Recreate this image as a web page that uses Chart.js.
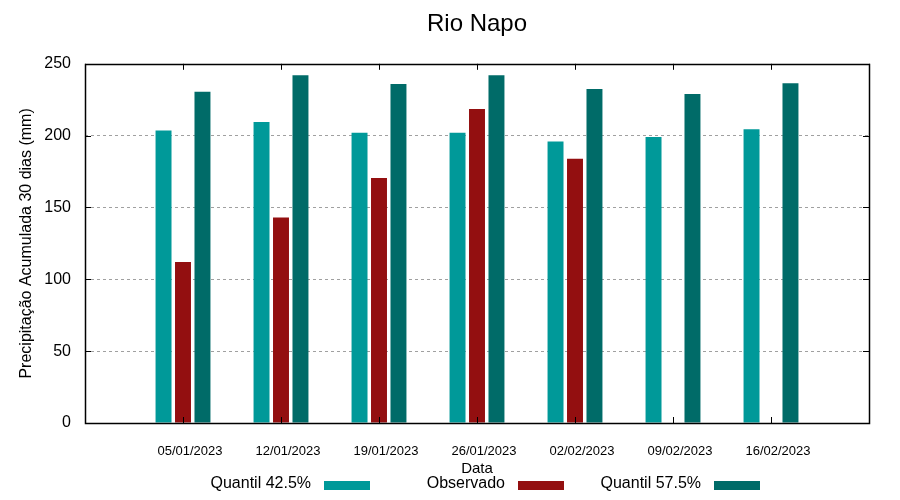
<!DOCTYPE html>
<html>
<head>
<meta charset="utf-8">
<script src="https://cdn.jsdelivr.net/npm/chart.js@4/dist/chart.umd.min.js"></script>
<style>
  html, body { margin: 0; padding: 0; background: #fff; }
  #wrap { width: 900px; height: 500px; }
</style>
</head>
<body>
<div id="wrap"><canvas id="chart" width="900" height="500"></canvas></div>
<script>
// dates (with empty slots at each end, like the gnuplot x range)
const datas = ["", "05/01/2023", "12/01/2023", "19/01/2023", "26/01/2023", "02/02/2023", "09/02/2023", "16/02/2023", ""];
const quantil425 = [null, 203.5, 209.5, 202, 202, 196, 199, 204.5, null];
const observado = [null, 112, 143, 170.5, 218.5, 184, null, null, null];
const quantil575 = [null, 230.5, 242, 236, 242, 232.5, 229, 236.5, null];
const yTicks = [0, 50, 100, 150, 200, 250];

const FONT = "'Liberation Sans', Arial, sans-serif";

// gnuplot-like frame, inward ticks and legend (text then sample)
const gnuplotFrame = {
  id: "gnuplotFrame",
  afterDraw(chart) {
    const { ctx, chartArea: a, scales } = chart;
    ctx.save();
    ctx.strokeStyle = "#000";
    ctx.lineWidth = 1;
    ctx.beginPath();
    scales.x.ticks.forEach((t, i) => {
      const px = Math.round(scales.x.getPixelForTick(i)) + 0.5;
      ctx.moveTo(px, a.bottom); ctx.lineTo(px, a.bottom - 6);
      ctx.moveTo(px, a.top); ctx.lineTo(px, a.top + 6);
    });
    yTicks.forEach(v => {
      const py = Math.round(scales.y.getPixelForValue(v)) + 0.5;
      ctx.moveTo(a.left, py); ctx.lineTo(a.left + 6, py);
      ctx.moveTo(a.right, py); ctx.lineTo(a.right - 6, py);
    });
    ctx.stroke();
    ctx.lineWidth = 1.5;
    ctx.strokeRect(Math.round(a.left) + 0.5, Math.round(a.top) + 0.5,
      Math.round(a.right - a.left), Math.round(a.bottom - a.top));

    // legend
    const textRight = [311, 505, 701];
    ctx.font = "16px " + FONT;
    ctx.textAlign = "right";
    ctx.textBaseline = "middle";
    chart.data.datasets.forEach((ds, i) => {
      ctx.fillStyle = "#000";
      ctx.fillText(ds.label, textRight[i], 484);
      ctx.fillStyle = ds.backgroundColor;
      ctx.fillRect(textRight[i] + 13, 481, 46, 9);
    });
    ctx.restore();
  }
};

new Chart(document.getElementById("chart"), {
  type: "bar",
  data: {
    labels: datas,
    datasets: [
      { label: "Quantil 42.5%", data: quantil425, backgroundColor: "#009999" },
      { label: "Observado", data: observado, backgroundColor: "#930f10" },
      { label: "Quantil 57.5%", data: quantil575, backgroundColor: "#006b68" }
    ]
  },
  options: {
    responsive: false,
    animation: false,
    layout: { padding: { left: 0, right: 31, top: 0, bottom: 22 } },
    datasets: { bar: { categoryPercentage: 0.596, barPercentage: 0.82 } },
    plugins: {
      legend: { display: false },
      tooltip: { enabled: false },
      title: {
        display: true,
        fullSize: false,
        text: "Rio Napo",
        color: "#000",
        font: { family: FONT, size: 24, weight: "normal" },
        padding: { top: 10, bottom: 25 }
      }
    },
    scales: {
      x: {
        offset: false,
        grid: { display: false },
        border: { display: false },
        ticks: {
          autoSkip: false,
          maxRotation: 0,
          color: "#000",
          padding: 13,
          labelOffset: 7,
          font: { family: FONT, size: 13 }
        },
        title: {
          display: true,
          text: "Data",
          color: "#000",
          font: { family: FONT, size: 15 },
          padding: { top: 0, bottom: 0 }
        },
        afterFit(scale) { scale.height = 55; }
      },
      y: {
        min: 0,
        max: 250,
        afterBuildTicks(scale) { scale.ticks = yTicks.map(v => ({ value: v })); },
        grid: {
          color: ctx => (ctx.tick && (ctx.tick.value === 0 || ctx.tick.value === 250)) ? "rgba(0,0,0,0)" : "#a0a0a0",
          drawTicks: false
        },
        border: { display: false, dash: [3, 3] },
        ticks: {
          color: "#000",
          padding: 14,
          font: { family: FONT, size: 16 }
        },
        title: {
          display: true,
          text: "Precipitação Acumulada 30 dias (mm)",
          color: "#000",
          font: { family: FONT, size: 16 },
          padding: { top: 17, bottom: 0 }
        },
        afterFit(scale) { scale.width = 85; }
      }
    }
  },
  plugins: [gnuplotFrame]
});
</script>
</body>
</html>
